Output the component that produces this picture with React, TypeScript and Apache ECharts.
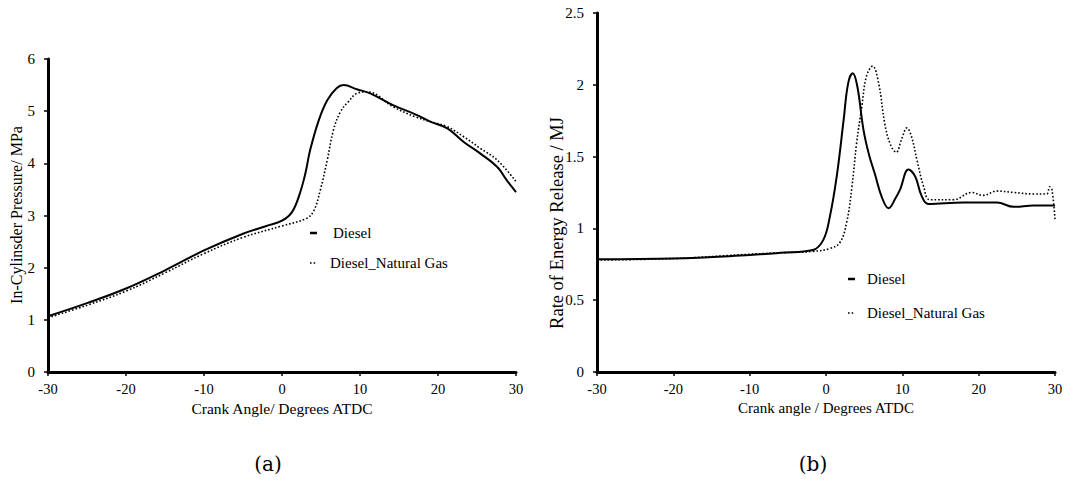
import React, { useEffect, useRef } from "react";
import * as echarts from "echarts";

const pressureDieselX = [-30, -25, -20, -15, -10, -5, -2, 0, 1.3, 2.3, 3.0, 3.6, 4.7, 5.8, 7, 7.9, 9.6, 11.3, 14.3, 17.1, 19, 21.2, 23.3, 25.4, 27.6, 28.8, 30];
const pressureDieselY = [1.07, 1.32, 1.6, 1.95, 2.33, 2.65, 2.8, 2.9, 3.07, 3.43, 3.81, 4.25, 4.82, 5.21, 5.44, 5.5, 5.42, 5.34, 5.11, 4.94, 4.8, 4.67, 4.41, 4.19, 3.93, 3.68, 3.45];
const pressureGasX = [-30, -25, -20, -15, -10, -5, 0, 3.2, 4.1, 4.9, 5.8, 6.6, 7.5, 8.5, 9.6, 10.9, 14.3, 17.1, 19, 21.2, 23.3, 25.4, 27.6, 30];
const pressureGasY = [1.04, 1.28, 1.55, 1.9, 2.27, 2.58, 2.8, 2.95, 3.1, 3.48, 4.06, 4.64, 4.99, 5.18, 5.34, 5.37, 5.08, 4.89, 4.8, 4.7, 4.51, 4.29, 4.06, 3.65];

const rateDieselX = [-30, -20, -10, -6, -1.7, -0.35, 0.5, 1.4, 2.3, 2.9, 3.5, 4.1, 4.9, 5.6, 6.4, 7.3, 8.2, 9.1, 9.7, 10.8, 11.7, 12.5, 13.4, 18, 22.4, 24.6, 27.2, 30];
const rateDieselY = [0.785, 0.79, 0.815, 0.83, 0.85, 0.92, 1.08, 1.36, 1.75, 2.01, 2.08, 1.99, 1.69, 1.52, 1.38, 1.22, 1.14, 1.21, 1.27, 1.41, 1.36, 1.23, 1.17, 1.18, 1.18, 1.15, 1.16, 1.16];
const rateGasX = [-30, -20, -10, -6, -1.7, 0.5, 1.8, 2.7, 3.4, 4.0, 4.7, 5.3, 6.1, 6.9, 7.7, 8.4, 9.2, 9.9, 10.6, 11.2, 11.9, 12.8, 13.6, 16.7, 19.1, 20.6, 22.4, 24.6, 27.2, 28.9, 29.3, 29.6, 30];
const rateGasY = [0.78, 0.79, 0.82, 0.83, 0.84, 0.86, 0.9, 1.04, 1.29, 1.59, 1.85, 2.06, 2.13, 2.01, 1.73, 1.59, 1.53, 1.62, 1.7, 1.64, 1.48, 1.29, 1.2, 1.2, 1.25, 1.23, 1.26, 1.25, 1.24, 1.24, 1.29, 1.27, 1.06];

const seriesNames = ["Diesel", "Diesel_Natural Gas"];

const zip = (xs: number[], ys: number[]) => xs.map((x, i) => [x, ys[i]]);

const FONT = "Liberation Serif";

export default function App() {
  const ref = useRef<HTMLDivElement>(null);
  useEffect(() => {
    if (!ref.current) return;
    const chart = echarts.init(ref.current, null, { renderer: "svg" });
    const axisLine = { show: true, onZero: false, lineStyle: { color: "#000", width: 3 } };
    const axisTick = { show: true, length: 4, lineStyle: { color: "#000", width: 1.5 } };
    const xAxisBase = {
      type: "value",
      min: -30,
      max: 30,
      interval: 10,
      axisLine,
      axisTick,
      axisLabel: { color: "#000", fontFamily: FONT, fontSize: 14.5, margin: 9 },
      splitLine: { show: false },
    };
    const yLabel = { color: "#000", fontFamily: FONT, fontSize: 15, margin: 13 };
    const txt = (text: string, x: number, y: number, size: number, extra: any = {}) => ({
      type: "text", x, y, rotation: extra.rotation || 0,
      style: { text, fontFamily: FONT, fontSize: size, fill: "#000", align: extra.align || "left", verticalAlign: "middle" },
    });
    const legendItems = (x: number, y1: number, y2: number, tx1: number, tx2: number) => [
      { type: "line", shape: { x1: x, y1, x2: x + 7, y2: y1 }, style: { stroke: "#000", lineWidth: 2.5 } },
      txt(seriesNames[0], tx1, y1, 15),
      { type: "line", shape: { x1: x, y1: y2, x2: x + 7, y2: y2 }, style: { stroke: "#000", lineWidth: 1.6, lineDash: [1.6, 2] } },
      txt(seriesNames[1], tx2, y2, 15),
    ];
    const option = {
      animation: false,
      backgroundColor: "#fff",
      textStyle: { fontFamily: FONT },
      grid: [
        { left: 48, top: 59, width: 468, height: 313 },
        { left: 597, top: 13, width: 458, height: 359 },
      ],
      xAxis: [
        { ...xAxisBase, gridIndex: 0 },
        { ...xAxisBase, gridIndex: 1 },
      ],
      yAxis: [
        {
          type: "value", gridIndex: 0, min: 0, max: 6, interval: 1,
          axisLine, axisTick, axisLabel: yLabel, splitLine: { show: false },
        },
        {
          type: "value", gridIndex: 1, min: 0, max: 2.5, interval: 0.5,
          axisLine, axisTick, axisLabel: yLabel, splitLine: { show: false },
        },
      ],
      series: [
        {
          name: seriesNames[0], type: "line", xAxisIndex: 0, yAxisIndex: 0, smooth: 0.4, showSymbol: false, symbol: "none",
          data: zip(pressureDieselX, pressureDieselY), lineStyle: { color: "#000", width: 2 }, itemStyle: { color: "#000" },
        },
        {
          name: seriesNames[1], type: "line", xAxisIndex: 0, yAxisIndex: 0, smooth: 0.4, showSymbol: false, symbol: "none",
          data: zip(pressureGasX, pressureGasY), lineStyle: { color: "#000", width: 1.6, type: [1.6, 2] }, itemStyle: { color: "#000" },
        },
        {
          name: seriesNames[0] + " (b)", type: "line", xAxisIndex: 1, yAxisIndex: 1, smooth: 0.4, showSymbol: false, symbol: "none",
          data: zip(rateDieselX, rateDieselY), lineStyle: { color: "#000", width: 2 }, itemStyle: { color: "#000" },
        },
        {
          name: seriesNames[1] + " (b)", type: "line", xAxisIndex: 1, yAxisIndex: 1, smooth: 0.4, showSymbol: false, symbol: "none",
          data: zip(rateGasX, rateGasY), lineStyle: { color: "#000", width: 1.6, type: [1.6, 2] }, itemStyle: { color: "#000" },
        },
      ],
      graphic: [
        txt("In-Cylinsder Pressure/ MPa", 16, 215, 16, { rotation: Math.PI / 2, align: "center" }),
        txt("Crank Angle/ Degrees ATDC", 282, 408, 15.5, { align: "center" }),
        txt("Rate of Energy Release / MJ", 557, 223, 18.5, { rotation: Math.PI / 2, align: "center" }),
        txt("Crank angle / Degrees ATDC", 826, 408, 15, { align: "center" }),
        { type: "text", x: 268, y: 464, style: { text: "(a)", fontFamily: "DejaVu Serif", fontSize: 20, fill: "#000", align: "center", verticalAlign: "middle" } },
        { type: "text", x: 813, y: 464, style: { text: "(b)", fontFamily: "DejaVu Serif", fontSize: 20, fill: "#000", align: "center", verticalAlign: "middle" } },
        ...legendItems(310, 233, 263, 333, 330),
        ...legendItems(848, 279, 313, 867, 867),
      ],
    };
    chart.setOption(option as any);
    return () => chart.dispose();
  }, []);
  return <div ref={ref} style={{ position: "fixed", left: 0, top: 0, width: 1068, height: 487, background: "#fff" }} />;
}
